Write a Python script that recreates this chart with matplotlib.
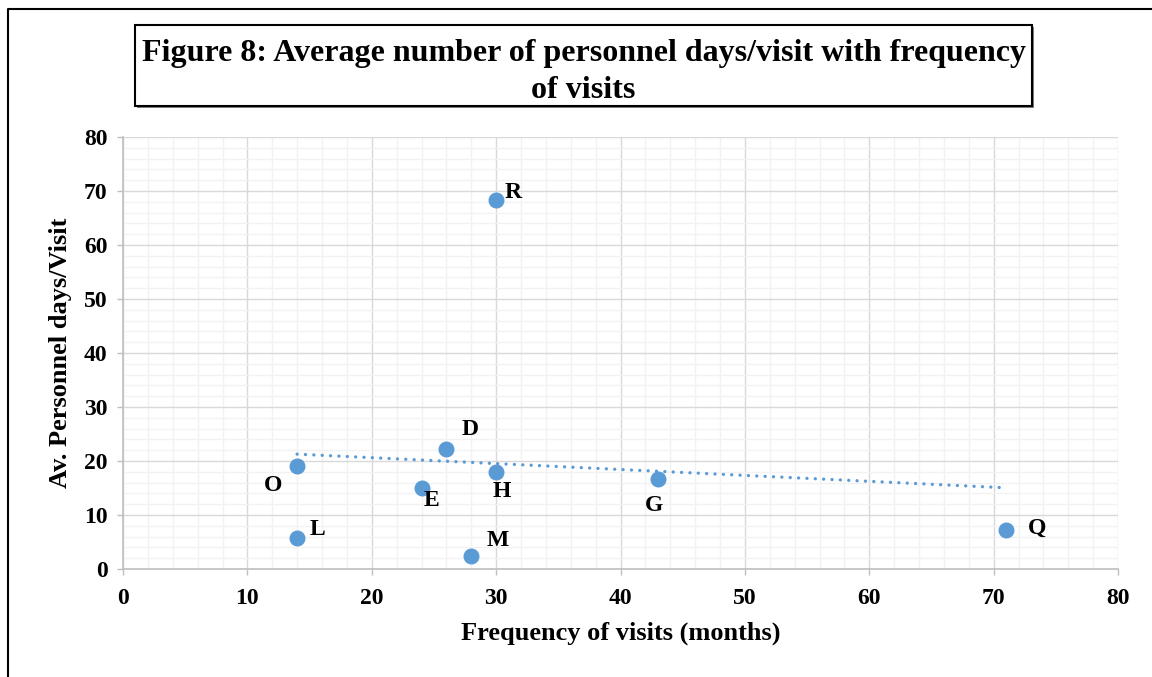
import numpy as np
import matplotlib
matplotlib.use("Agg")
import matplotlib.pyplot as plt
from matplotlib.patches import Rectangle
from matplotlib.lines import Line2D
from matplotlib.ticker import MultipleLocator

# ---- data ----
labels = ["O", "L", "E", "D", "H", "M", "R", "G", "Q"]
freq_months = [14, 14, 24, 26, 30, 28, 30, 43, 71]
personnel_days = [19.1, 5.7, 15.0, 22.2, 18.0, 2.4, 68.4, 16.6, 7.2]
x_ticks = [0, 10, 20, 30, 40, 50, 60, 70, 80]
y_ticks = [0, 10, 20, 30, 40, 50, 60, 70, 80]

title = "Figure 8: Average number of personnel days/visit with frequency\nof visits"
xlabel = "Frequency of visits (months)"
ylabel = "Av. Personnel days/Visit"

# label offsets (points) relative to each marker
label_offsets = {
    "O": (-17, -14), "L": (15, 6), "E": (7, -9), "D": (17, 14), "H": (4, -14),
    "M": (19, 11), "R": (12, 5), "G": (-3, -19), "Q": (22, 1),
}

plt.rcParams['font.family'] = ['Liberation Serif', 'DejaVu Serif']
plt.rcParams['font.weight'] = 'bold'

W, H = 1152, 677
fig = plt.figure(figsize=(W / 100, H / 100), dpi=100)
fig.patch.set_facecolor("white")

ax = fig.add_axes([123 / W, 1 - 569 / H, (1118 - 123) / W, (569 - 137) / H])
ax.set_xlim(0, 80)
ax.set_ylim(0, 80)
ax.set_xticks(x_ticks)
ax.set_yticks(y_ticks)
ax.xaxis.set_minor_locator(MultipleLocator(2))
ax.yaxis.set_minor_locator(MultipleLocator(2))
ax.grid(which="major", color="#D9D9D9", linewidth=1.0, zorder=0)
ax.grid(which="minor", color="#F2F2F2", linewidth=1.0, zorder=0)
ax.set_axisbelow(True)
for s in ["top", "right"]:
    ax.spines[s].set_visible(False)
for s in ["left", "bottom"]:
    ax.spines[s].set_color("#BFBFBF")
    ax.spines[s].set_linewidth(1.2)
ax.tick_params(which="major", length=4, width=1.0, color="#BFBFBF",
               labelsize=17)
ax.tick_params(axis="x", which="major", pad=10)
ax.tick_params(axis="y", which="major", pad=7)
ax.tick_params(which="minor", length=0)
for lab in ax.get_xticklabels() + ax.get_yticklabels():
    lab.set_fontweight("bold")

ax.set_xlabel(xlabel, fontsize=19, fontweight="bold", labelpad=9)
ax.set_ylabel(ylabel, fontsize=19, fontweight="bold", labelpad=9)

# trendline (least squares over the data)
xs = np.array(freq_months, dtype=float)
ys = np.array(personnel_days, dtype=float)
slope, intercept = np.polyfit(xs, ys, 1)
tx = np.array([xs.min(), xs.max()])
ax.plot(tx, slope * tx + intercept, color="#5B9BD5", linewidth=2.4,
        linestyle=(0, (0.01, 2.5)), dash_capstyle="round", zorder=2)

ax.plot(freq_months, personnel_days, linestyle="none", marker="o",
        markersize=10.5, color="#5B9BD5", markeredgecolor="#5B9BD5", zorder=3)

for lab, x, y in zip(labels, freq_months, personnel_days):
    dx, dy = label_offsets[lab]
    ax.annotate(lab, (x, y), xytext=(dx, dy), textcoords="offset points",
                ha="center", va="center", fontsize=17, fontweight="bold",
                color="black", zorder=4)

# title box with shadow
bx0, bx1, by0, by1 = 135, 1032, 25, 106
fig.patches.append(Rectangle(((bx0 + 2) / W, 1 - (by1 + 2) / H), (bx1 - bx0) / W,
                             (by1 - by0) / H, transform=fig.transFigure,
                             facecolor="#7F7F7F", edgecolor="none", zorder=1))
fig.patches.append(Rectangle((bx0 / W, 1 - by1 / H), (bx1 - bx0) / W,
                             (by1 - by0) / H, transform=fig.transFigure,
                             facecolor="white", edgecolor="black", linewidth=1.5,
                             zorder=2))
fig.text((bx0 + bx1) / 2 / W, 1 - 72 / H, title, ha="center",
         va="center", fontsize=23, fontweight="bold", linespacing=1.32, zorder=3)

# outer frame (left and top edges)
fig.lines.append(Line2D([8 / W, 8 / W, 1.0], [0.0, 1 - 9 / H, 1 - 9 / H],
                        transform=fig.transFigure, color="black", linewidth=1.5))

fig.savefig("out.png", dpi=100, facecolor="white")
